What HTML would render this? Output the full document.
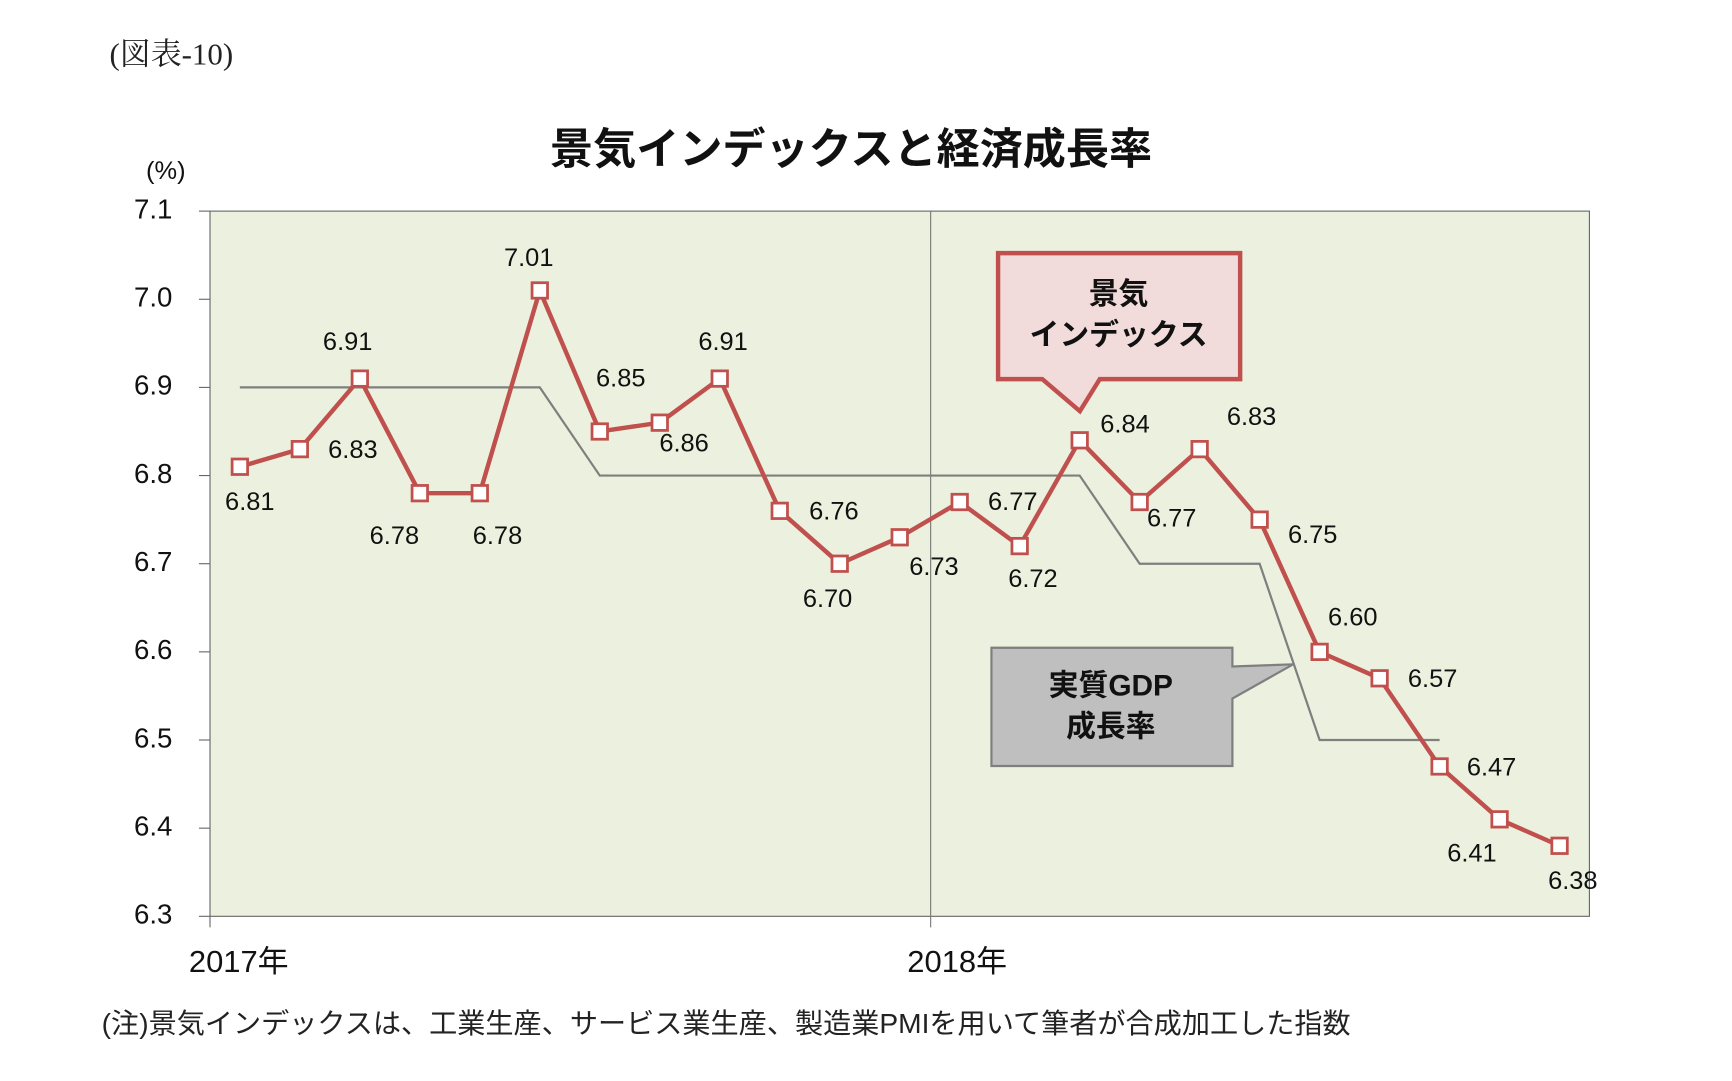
<!DOCTYPE html>
<html><head><meta charset="utf-8"><style>
html,body{margin:0;padding:0;background:#fff;}
svg{display:block;font-family:"Liberation Sans","Noto Sans CJK JP",sans-serif;}
</style></head><body>
<svg width="1732" height="1081" viewBox="0 0 1567 978" preserveAspectRatio="none" xmlns="http://www.w3.org/2000/svg">
<text x="155" y="52" text-anchor="middle" dominant-baseline="middle" font-size="28" font-family="Liberation Serif, Noto Serif CJK SC, serif" fill="#222">(図表-10)</text>
<text x="770" y="138" text-anchor="middle" dominant-baseline="middle" font-size="39" font-weight="bold" fill="#111">景気インデックスと経済成長率</text>
<text x="150" y="156" text-anchor="middle" dominant-baseline="middle" font-size="23" fill="#111">(%)</text>
<rect x="190" y="191" width="1248" height="638" fill="#ebf1de" stroke="#666" stroke-width="1"/>
<g id="yaxis"></g>
<g id="marks"></g>
<g>
<path d="M903,229 H1122 V343 H995 L977,372 L943,343 H903 Z" fill="#f2dcdb" stroke="#c0504d" stroke-width="4"/>
<text x="1012" y="268" text-anchor="middle" dominant-baseline="middle" font-size="27" font-weight="bold" fill="#111">景気</text>
<text x="1012" y="305" text-anchor="middle" dominant-baseline="middle" font-size="27" font-weight="bold" fill="#111">インデックス</text>
</g>
<g>
<path d="M897,586 H1115 V603 L1170,601 L1115,632 V693 H897 Z" fill="#bfbfbf" stroke="#7f7f7f" stroke-width="2"/>
<text x="1005" y="622" text-anchor="middle" dominant-baseline="middle" font-size="27" font-weight="bold" fill="#111">実質GDP</text>
<text x="1005" y="659" text-anchor="middle" dominant-baseline="middle" font-size="27" font-weight="bold" fill="#111">成長率</text>
</g>
<text x="216" y="872" text-anchor="middle" dominant-baseline="middle" font-size="28" fill="#111">2017年</text>
<text x="866" y="872" text-anchor="middle" dominant-baseline="middle" font-size="28" fill="#111">2018年</text>
<text x="92" y="928" dominant-baseline="middle" font-size="25" textLength="1130" lengthAdjust="spacingAndGlyphs" fill="#222">(注)景気インデックスは、工業生産、サービス業生産、製造業PMIを用いて筆者が合成加工した指数</text>
</svg>
<script>
const indexValues=[6.81,6.83,6.91,6.78,6.78,7.01,6.85,6.86,6.91,6.76,6.70,6.73,6.77,6.72,6.84,6.77,6.83,6.75,6.60,6.57,6.47,6.41,6.38];
const gdpValues=[6.9,6.9,6.9,6.9,6.9,6.9,6.8,6.8,6.8,6.8,6.8,6.8,6.8,6.8,6.8,6.7,6.7,6.7,6.5,6.5,6.5,null,null];
const yTicks=[6.3,6.4,6.5,6.6,6.7,6.8,6.9,7.0,7.1];
const labelOffsets=[[9,33],[48,2],[-11,-32],[-23,40],[16,40],[-10,-28],[19,-47],[22,20],[3,-32],[49,2],[-11,33],[31,28],[48,1],[12,31],[41,-13],[29,16],[47,-28],[48,15],[30,-30],[48,2],[47,2],[-25,32],[12,33]];
const NS="http://www.w3.org/2000/svg";
function X(i){return 217+i*(1411-217)/22;}
function Y(v){return 829-(v-6.3)/0.8*638;}
function el(t,a,p){const e=document.createElementNS(NS,t);for(const k in a)e.setAttribute(k,a[k]);p.appendChild(e);return e;}
const ya=document.getElementById('yaxis'),mk=document.getElementById('marks');
yTicks.forEach(v=>{
 const t=el('line',{x1:180,x2:190,y1:Y(v),y2:Y(v),stroke:'#666'},ya);
 
 
 const l=el('text',{x:156,y:Y(v),'text-anchor':'end','dominant-baseline':'middle','font-size':25,fill:'#111'},ya);
 l.textContent=v.toFixed(1);
 
 
});
const vl=el('line',{x1:842,x2:842,y1:191,y2:839,stroke:'#777','stroke-width':1},ya);


el('line',{x1:190,x2:190,y1:829,y2:839,stroke:'#666'},ya);
let gd='';gdpValues.forEach((v,i)=>{if(v!==null)gd+=(gd?'L':'M')+X(i)+','+Y(v);});
const gl=el('path',{d:gd,fill:'none',stroke:'#7f7f7f','stroke-width':2},mk);


const il=el('path',{d:indexValues.map((v,i)=>(i?'L':'M')+X(i)+','+Y(v)).join(''),fill:'none',stroke:'#c0504d','stroke-width':4,'stroke-linejoin':'round'},mk);


indexValues.forEach((v,i)=>{
 const m=el('rect',{x:X(i)-7,y:Y(v)-7,width:14,height:14,fill:'#fff',stroke:'#c0504d','stroke-width':2.5},mk);
 
 
 const o=labelOffsets[i];
 const t=el('text',{x:X(i)+o[0],y:Y(v)+o[1],'text-anchor':'middle','dominant-baseline':'middle','font-size':23,fill:'#111'},mk);
 t.textContent=v.toFixed(2);
 
 
});
</script>
</body></html>
